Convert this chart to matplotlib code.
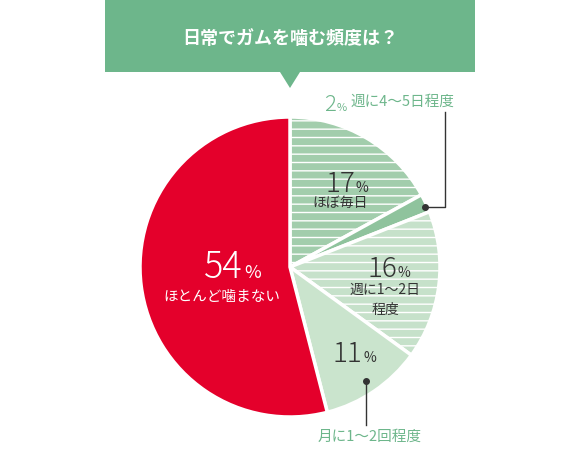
import matplotlib
matplotlib.use('Agg')
import matplotlib.pyplot as plt
from matplotlib.patches import Rectangle, Polygon

plt.rcParams['font.family'] = ['Noto Sans CJK JP', 'DejaVu Sans']

# data
labels = ['ほぼ毎日', '週に4〜5日程度', '週に1〜2日程度', '月に1〜2回程度', 'ほとんど噛まない']
values = [17, 2, 16, 11, 54]
colors = ['#a2cdac', '#8fc39d', '#c6e1ca', '#cae4cd', '#e4002b']
title = '日常でガムを噛む頻度は？'

H = 455
fig = plt.figure(figsize=(5.8, 4.55), dpi=100)
ax = fig.add_axes([0, 0, 1, 1])
ax.set_xlim(0, 580)
ax.set_ylim(0, H)
ax.set_aspect('equal')
ax.axis('off')

wedges, _ = ax.pie(values, colors=colors, startangle=90, counterclock=False,
                   center=(290, H - 267), radius=150, frame=True,
                   wedgeprops=dict(edgecolor='white', linewidth=2.5))
ax.set_xlim(0, 580)
ax.set_ylim(0, H)
ax.axis('off')
# horizontal stripes on the striped slices
for i in (0, 2):
    wedges[i].set_hatch('--')
plt.rcParams['hatch.color'] = '#ffffff'
plt.rcParams['hatch.linewidth'] = 1.5

# banner
green = '#6db68b'
ax.add_patch(Rectangle((105, H - 72), 370, 72, color=green, lw=0))
ax.add_patch(Polygon([(280, H - 72), (300, H - 72), (290, H - 88)], color=green, lw=0))
ax.text(290, H - 38, title, color='white', fontsize=13, fontweight='bold', ha='center', va='center')

def pct(x, y, num, size, color='#333333'):
    ax.text(x, H - y, str(num), fontsize=size, color=color, ha='right', va='baseline', fontweight='light')
    ax.text(x + 1, H - y, '%', fontsize=size * 0.5, color=color, ha='left', va='baseline')

dark = '#333333'
pct(355, 192, values[0], 20)
ax.text(340, H - 203, labels[0], fontsize=10, color=dark, ha='center', va='center')
pct(243, 278, values[4], 26, 'white')
ax.text(222, H - 297, labels[4], fontsize=10.5, color='white', ha='center', va='center')
pct(397, 277, values[2], 20)
ax.text(385, H - 290, '週に1〜2日', fontsize=10, color=dark, ha='center', va='center')
ax.text(385, H - 310, '程度', fontsize=10, color=dark, ha='center', va='center')
pct(362, 362, values[3], 20)

# outside labels
pct(336, 111, values[1], 16, green)
ax.text(350, H - 102, labels[1], fontsize=10.5, color=green, ha='left', va='center')
ax.plot([425, 445, 445], [H - 207, H - 207, H - 112], color=dark, lw=1)
ax.plot(425, H - 207, 'o', color=dark, ms=4)
ax.plot([366, 366], [H - 381, H - 425], color=dark, lw=1)
ax.plot(366, H - 381, 'o', color=dark, ms=4)
ax.text(370, H - 437, labels[3], fontsize=10.5, color=green, ha='center', va='center')

fig.savefig('out.png', dpi=100)
